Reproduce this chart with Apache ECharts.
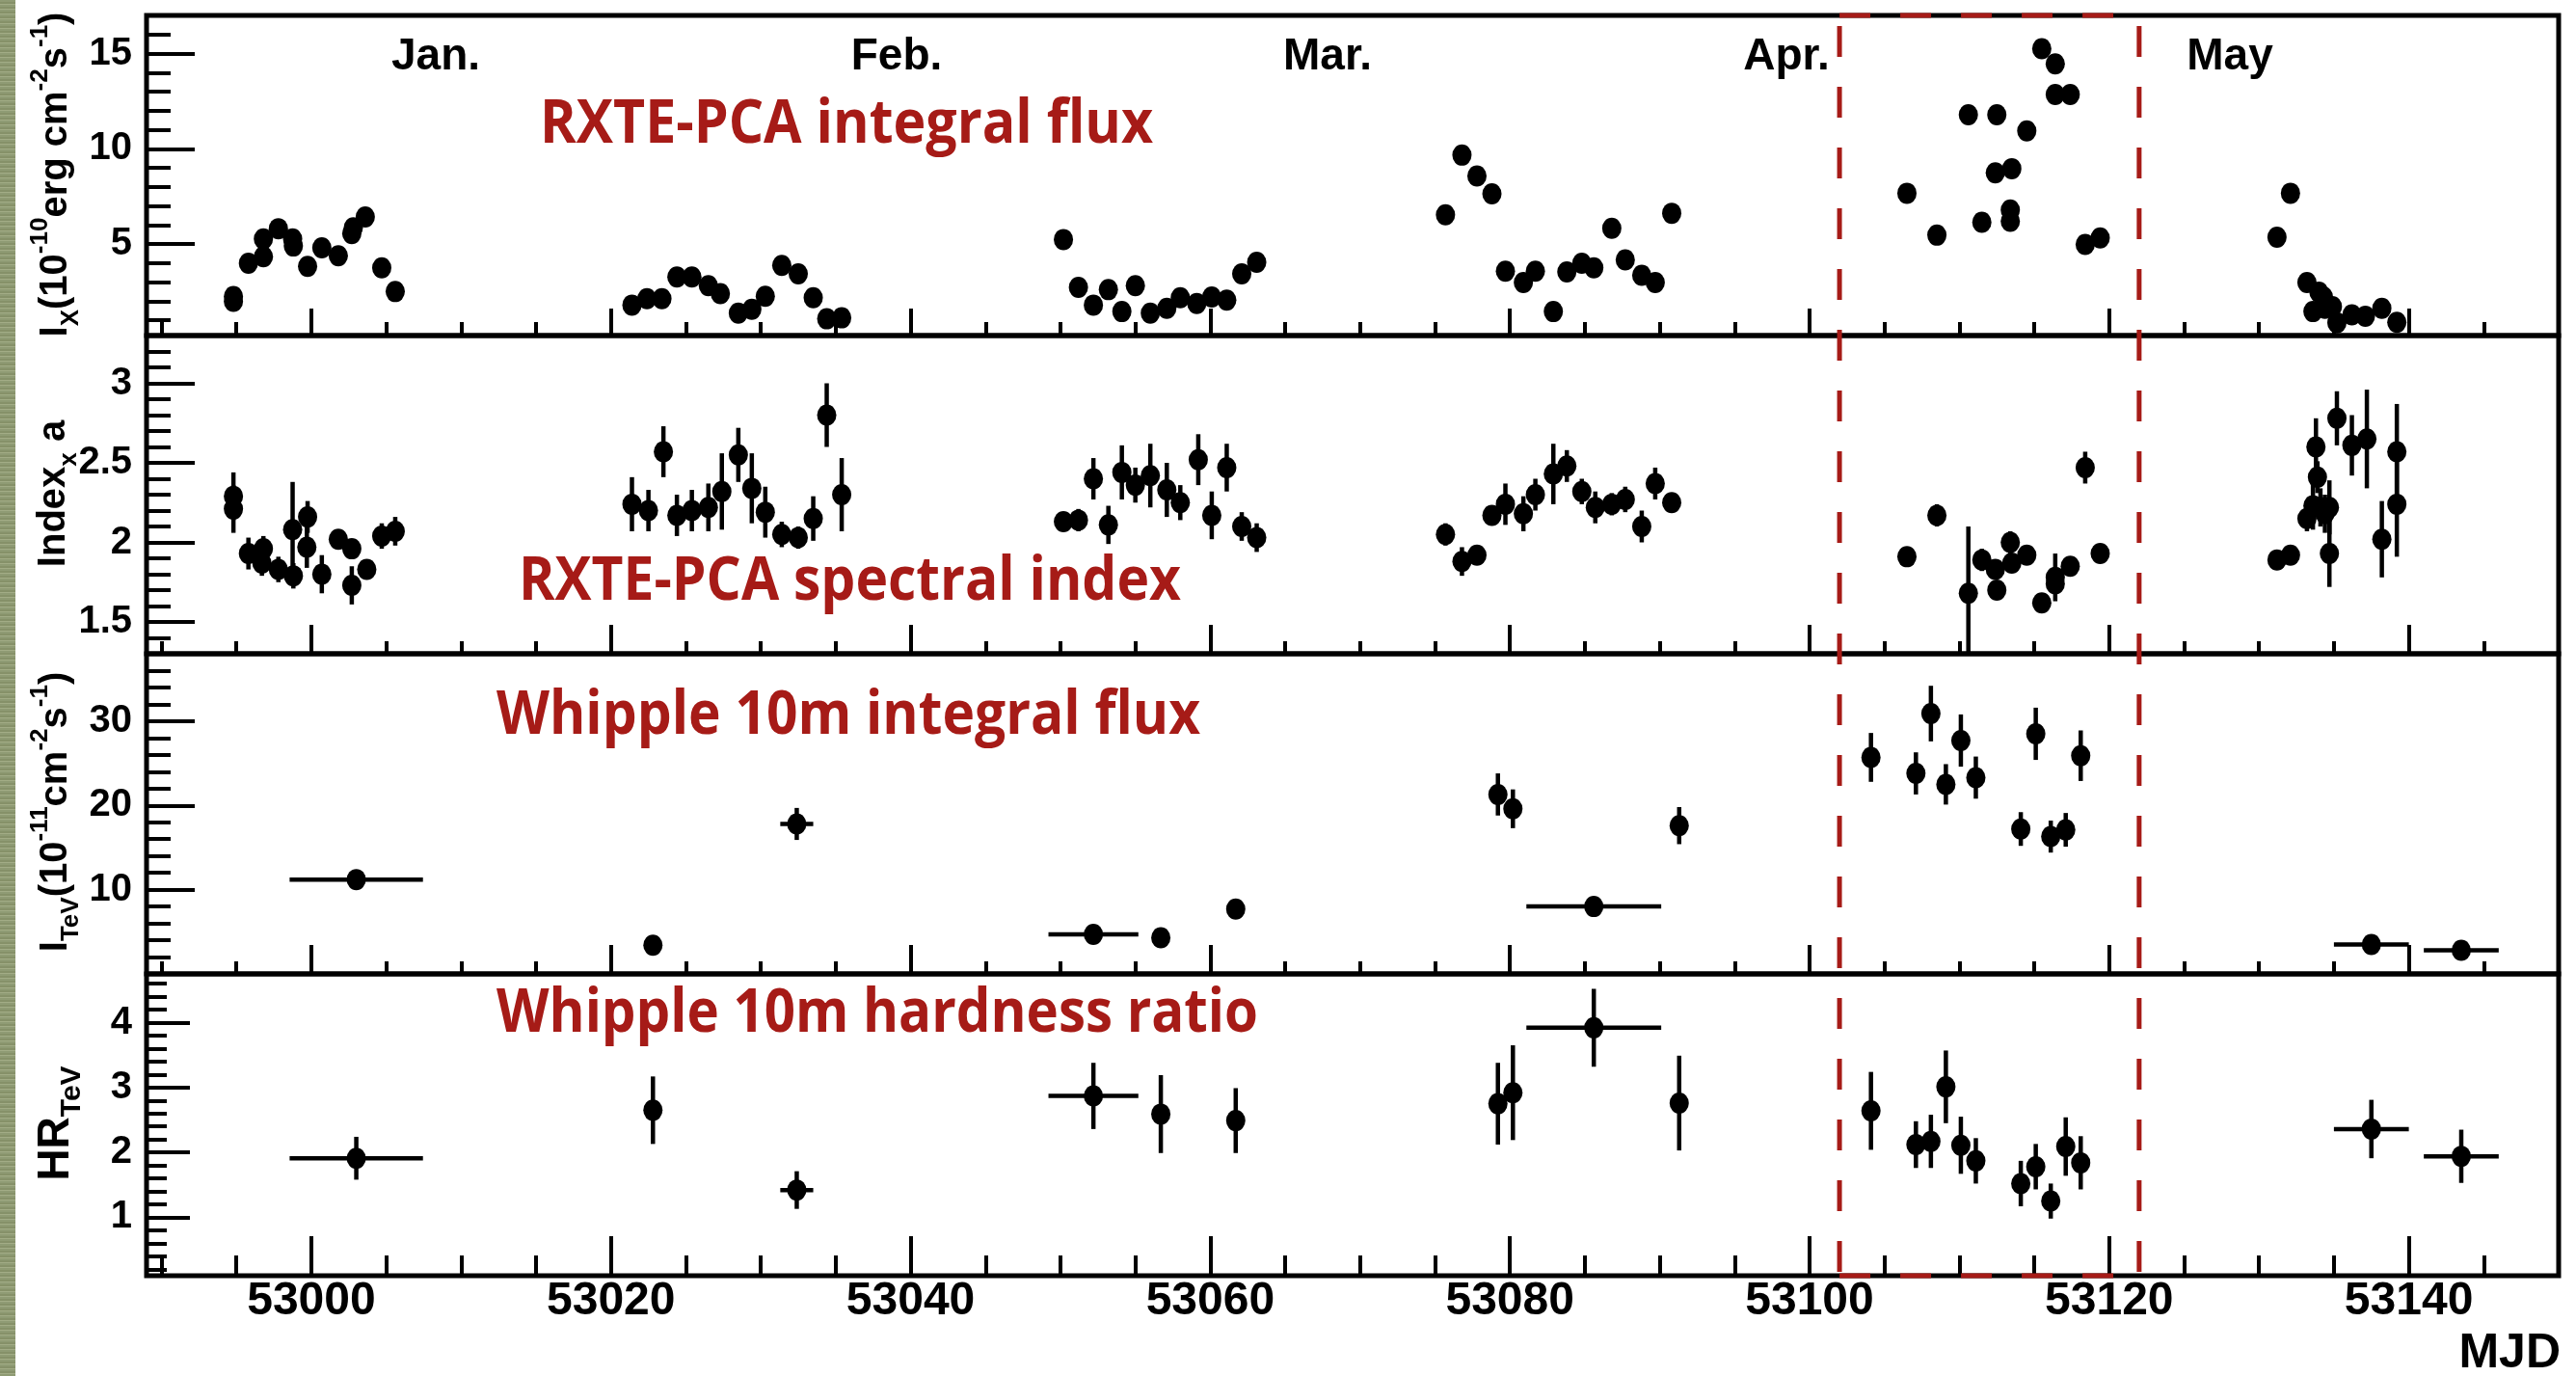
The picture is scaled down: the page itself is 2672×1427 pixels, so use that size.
<!DOCTYPE html>
<html>
<head>
<meta charset="utf-8">
<script src="https://cdn.jsdelivr.net/npm/echarts@6/dist/echarts.min.js"></script>
<style>
html,body{margin:0;padding:0;background:#fff;}
#chart{position:absolute;left:0;top:0;width:2672px;height:1427px;}
#strip{position:absolute;left:0;top:0;width:16px;height:1427px;z-index:5;
 background:repeating-linear-gradient(0deg,#8f9b74 0 2px,#a2ac86 2px 3px,#869169 3px 5px);}
</style>
</head>
<body>
<div id="chart"></div>
<div id="strip"></div>
<script>
// ---------------- DATA ----------------
// X axis (MJD)
const xMajorTicks = [53000, 53020, 53040, 53060, 53080, 53100, 53120, 53140];
// Y tick labels per panel
const p1Ticks = [5, 10, 15];
const p2Ticks = [1.5, 2, 2.5, 3];
const p3Ticks = [10, 20, 30];
const p4Ticks = [1, 2, 3, 4];
const monthNames = ['Jan.', 'Feb.', 'Mar.', 'Apr.', 'May'];

// Panel 1: RXTE-PCA integral flux (1e-10 erg cm^-2 s^-1)
const xrayFluxMJD = [
 52994.8, 52994.8, 52995.8, 52996.8, 52996.8, 52997.8, 52998.75, 52998.8, 52999.75, 53000.7, 53001.8, 53002.7, 53002.8, 53003.6, 53004.7, 53005.6,
 53021.4, 53022.4, 53023.4, 53024.4, 53025.4, 53026.5, 53027.3, 53028.5, 53029.4, 53030.3, 53031.4, 53032.5, 53033.5, 53034.4, 53035.4,
 53050.2, 53051.2, 53052.2, 53053.2, 53054.1, 53055.0, 53056.0, 53057.1, 53058.0, 53059.1, 53060.1, 53061.1, 53062.1, 53063.1,
 53075.7, 53076.8, 53077.8, 53078.8, 53079.7, 53080.9, 53081.7, 53082.9, 53083.8, 53084.8, 53085.6, 53086.8, 53087.7, 53088.8, 53089.7, 53090.8,
 53106.5, 53108.5, 53110.6, 53111.5, 53112.4, 53112.5, 53113.4, 53113.4, 53113.5, 53114.5, 53115.5, 53116.4, 53116.4, 53117.4, 53118.4, 53119.4,
 53131.2, 53132.1, 53133.2, 53133.6, 53134.0, 53134.3, 53134.4, 53134.9, 53135.2, 53136.2, 53137.1, 53138.2, 53139.2
];
const xrayFlux = [
 2.25, 2.0, 4.0, 4.34, 5.27, 5.81, 5.27, 4.9, 3.83, 4.8, 4.39, 5.55, 5.85, 6.42, 3.75, 2.51,
 1.80, 2.14, 2.14, 3.27, 3.27, 2.82, 2.4, 1.38, 1.58, 2.26, 3.88, 3.44, 2.19, 1.08, 1.13,
 5.24, 2.73, 1.80, 2.61, 1.46, 2.82, 1.38, 1.63, 2.19, 1.88, 2.22, 2.06, 3.44, 4.05,
 6.54, 9.67, 8.57, 7.64, 3.58, 2.98, 3.58, 1.46, 3.54, 4.0, 3.75, 5.83, 4.17, 3.36, 2.98, 6.62,
 7.67, 5.47, 11.79, 6.15, 8.74, 11.79, 6.79, 6.2, 8.96, 10.94, 15.25, 14.46, 12.85, 12.85, 4.98, 5.32,
 5.36, 7.67, 2.98, 1.46, 2.48, 2.22, 1.63, 1.72, 0.87, 1.29, 1.21, 1.63, 0.9
];

// Panel 2: RXTE-PCA spectral index
const xrayIndexMJD = [
 52994.8, 52994.8, 52995.8, 52996.7, 52996.8, 52997.8, 52998.75, 52998.8, 52999.7, 52999.75, 53000.7, 53001.8, 53002.7, 53002.7, 53003.7, 53004.7, 53005.6,
 53021.4, 53022.5, 53023.5, 53024.4, 53025.4, 53026.5, 53027.4, 53028.5, 53029.4, 53030.3, 53031.4, 53032.5, 53033.5, 53034.4, 53035.4,
 53050.2, 53051.2, 53052.2, 53053.2, 53054.1, 53055.0, 53056.0, 53057.1, 53058.0, 53059.2, 53060.1, 53061.1, 53062.1, 53063.1,
 53075.7, 53076.8, 53077.8, 53078.8, 53079.7, 53080.9, 53081.7, 53082.9, 53083.8, 53084.8, 53085.7, 53086.8, 53087.7, 53088.8, 53089.7, 53090.8,
 53106.5, 53108.5, 53110.6, 53111.5, 53112.4, 53112.5, 53113.4, 53113.5, 53114.5, 53115.5, 53116.4, 53116.4, 53117.4, 53118.4, 53119.4,
 53131.2, 53132.1, 53133.2, 53133.6, 53133.8, 53133.9, 53134.1, 53134.4, 53134.7, 53134.7, 53135.2, 53136.2, 53137.2, 53138.2, 53139.2, 53139.2
];
const xrayIndex = [
 2.29, 2.21, 1.93, 1.87, 1.96, 1.83, 2.08, 1.79, 1.97, 2.16, 1.80, 2.02, 1.96, 1.73, 1.83, 2.04, 2.07,
 2.24, 2.20, 2.57, 2.17, 2.20, 2.22, 2.32, 2.55, 2.34, 2.19, 2.05, 2.03, 2.15, 2.80, 2.30,
 2.13, 2.14, 2.40, 2.11, 2.44, 2.36, 2.42, 2.33, 2.25, 2.52, 2.17, 2.47, 2.10, 2.03,
 2.05, 1.88, 1.92, 2.17, 2.24, 2.18, 2.30, 2.43, 2.48, 2.32, 2.22, 2.24, 2.27, 2.10, 2.37, 2.25,
 1.91, 2.17, 1.68, 1.89, 1.83, 1.70, 2.00, 1.87, 1.92, 1.62, 1.78, 1.74, 1.85, 2.47, 1.93,
 1.89, 1.92, 2.15, 2.23, 2.60, 2.41, 2.22, 2.18, 2.22, 1.93, 2.78, 2.61, 2.65, 2.02, 2.57, 2.24
];
const xrayIndexErr = [
 0.15, 0.15, 0.10, 0.08, 0.08, 0.08, 0.30, 0.08, 0.13, 0.10, 0.12, 0.06, 0.06, 0.12, 0.04, 0.08, 0.09,
 0.17, 0.13, 0.16, 0.13, 0.13, 0.15, 0.24, 0.17, 0.22, 0.16, 0.08, 0.07, 0.14, 0.20, 0.23,
 0.05, 0.07, 0.13, 0.12, 0.17, 0.11, 0.20, 0.17, 0.11, 0.16, 0.15, 0.15, 0.09, 0.09,
 0.07, 0.09, 0.03, 0.06, 0.13, 0.11, 0.10, 0.19, 0.10, 0.08, 0.10, 0.07, 0.08, 0.10, 0.10, 0.06,
 0.03, 0.07, 0.42, 0.07, 0.04, 0.04, 0.07, 0.05, 0.04, 0.04, 0.15, 0.06, 0.05, 0.10, 0.06,
 0.03, 0.03, 0.08, 0.15, 0.18, 0.10, 0.12, 0.12, 0.17, 0.21, 0.17, 0.19, 0.31, 0.24, 0.30, 0.33
];

// Panel 3: Whipple 10m integral flux (1e-11 cm^-2 s^-1)
const tevMJD = [53003.0, 53022.8, 53032.4, 53052.2, 53056.7, 53061.7, 53079.2, 53080.2, 53085.6, 53091.3,
 53104.1, 53107.1, 53108.1, 53109.1, 53110.1, 53111.1, 53114.1, 53115.1, 53116.1, 53117.1, 53118.1, 53137.5, 53143.5];
const tevMJDErr = [4.45, 0, 1.1, 3.0, 0, 0, 0, 0, 4.5, 0,
 0, 0, 0, 0, 0, 0, 0, 0, 0, 0, 0, 2.5, 2.5];
const tevFlux = [11.2, 3.4, 17.8, 4.7, 4.3, 7.7, 21.3, 19.6, 8.0, 17.6,
 25.7, 23.8, 30.9, 22.5, 27.7, 23.3, 17.2, 28.5, 16.3, 17.1, 25.9, 3.5, 2.8];
const tevFluxErr = [0.5, 0.4, 1.9, 0.5, 0.5, 0.6, 2.5, 2.3, 0.5, 2.2,
 2.9, 2.5, 3.3, 2.4, 3.1, 2.5, 2.0, 3.1, 1.9, 2.0, 3.0, 0.3, 0.3];

// Panel 4: Whipple 10m hardness ratio
const hrMJD = tevMJD;
const hrMJDErr = tevMJDErr;
const hrValue = [1.91, 2.65, 1.42, 2.87, 2.59, 2.49, 2.75, 2.92, 3.92, 2.76,
 2.64, 2.12, 2.17, 3.01, 2.11, 1.87, 1.52, 1.78, 1.25, 2.09, 1.84, 2.36, 1.94];
const hrErr = [0.33, 0.52, 0.29, 0.51, 0.6, 0.5, 0.63, 0.73, 0.6, 0.73,
 0.6, 0.36, 0.41, 0.56, 0.44, 0.35, 0.35, 0.35, 0.27, 0.45, 0.41, 0.45, 0.41];

const flareRange = [53102, 53122];

// ---------------- LAYOUT ----------------
const RED = '#a61b17';
const NUM_FONT = 'Liberation Sans';
const TITLE_FONT = 'Open Sans';
function range(a, b, s) { const r = []; for (let v = a; v <= b + 1e-9; v += s) r.push(Math.round(v * 1000) / 1000); return r; }
const xMinorTicks = range(52990, 53150, 5);

const panels = [
  {top: 16, h: 332, min: 0.2, max: 17, major: p1Ticks, minor: range(1, 16, 1), xt: [28, 14], yt: [50, 25]},
  {top: 348, h: 330, min: 1.3, max: 3.3, major: p2Ticks, minor: range(1.4, 3.2, 0.1), xt: [30, 13], yt: [50, 25]},
  {top: 678, h: 332, min: 0, max: 38, major: p3Ticks, minor: range(2, 36, 2), xt: [30, 13], yt: [50, 25]},
  {top: 1010, h: 313, min: 0.1, max: 4.75, major: p4Ticks, minor: range(0.2, 4.6, 0.2), xt: [41, 21], yt: [45, 21]}
];

const plain = v => String(v);
const grid = [], xAxis = [], yAxis = [];
panels.forEach((p, i) => {
  grid.push({left: 152, width: 2502, top: p.top, height: p.h, show: true, borderColor: '#000', borderWidth: 5, backgroundColor: 'transparent'});
  xAxis.push({type: 'value', gridIndex: i, position: 'bottom', min: 52989, max: 53150,
    axisLine: {show: false}, splitLine: {show: false},
    axisTick: {show: true, inside: true, length: p.xt[0], customValues: xMajorTicks, lineStyle: {color: '#000', width: 4}},
    axisLabel: {show: i === 3, customValues: xMajorTicks, formatter: plain, fontSize: 48, fontWeight: 'bold', fontFamily: NUM_FONT, color: '#000', margin: 3}});
  xAxis.push({type: 'value', gridIndex: i, position: 'bottom', min: 52989, max: 53150,
    axisLine: {show: false}, splitLine: {show: false}, axisLabel: {show: false},
    axisTick: {show: true, inside: true, length: p.xt[1], customValues: xMinorTicks, lineStyle: {color: '#000', width: 4}}});
  yAxis.push({type: 'value', gridIndex: i, position: 'left', min: p.min, max: p.max,
    axisLine: {show: false}, splitLine: {show: false},
    axisTick: {show: true, inside: true, length: p.yt[0], customValues: p.major, lineStyle: {color: '#000', width: 4}},
    axisLabel: {customValues: p.major, formatter: plain, fontSize: 40, fontWeight: 'bold', fontFamily: NUM_FONT, color: '#000', margin: 15}});
  yAxis.push({type: 'value', gridIndex: i, position: 'left', min: p.min, max: p.max,
    axisLine: {show: false}, splitLine: {show: false}, axisLabel: {show: false},
    axisTick: {show: true, inside: true, length: p.yt[1], customValues: p.minor, lineStyle: {color: '#000', width: 4}}});
});

function errorBars(params, api) {
  const x = api.value(0), y = api.value(1), ex = api.value(2), ey = api.value(3);
  const cs = params.coordSys;
  const clx = v => Math.max(cs.x, Math.min(cs.x + cs.width, v));
  const cly = v => Math.max(cs.y, Math.min(cs.y + cs.height, v));
  const c = api.coord([x, y]);
  const kids = [];
  const st = {stroke: '#000', lineWidth: 4.5};
  if (ey > 0) {
    const a = api.coord([x, y + ey]), b = api.coord([x, y - ey]);
    kids.push({type: 'line', shape: {x1: c[0], y1: cly(a[1]), x2: c[0], y2: cly(b[1])}, style: st});
  }
  if (ex > 0) {
    const a = api.coord([x - ex, y]), b = api.coord([x + ex, y]);
    kids.push({type: 'line', shape: {x1: clx(a[0]), y1: c[1], x2: clx(b[0]), y2: c[1]}, style: st});
  }
  return {type: 'group', children: kids};
}

function pts(xs, ys) { return xs.map((x, k) => [x, ys[k]]); }
function errs(xs, ys, exs, eys) { return xs.map((x, k) => [x, ys[k], exs ? exs[k] : 0, eys ? eys[k] : 0]); }

const MARK = {type: 'scatter', symbol: 'circle', symbolSize: [20, 22], itemStyle: {color: '#000', opacity: 1}, z: 5, silent: true};
const ERR = {type: 'custom', renderItem: errorBars, z: 4, silent: true};

const series = [
  Object.assign({}, MARK, {xAxisIndex: 0, yAxisIndex: 0, data: pts(xrayFluxMJD, xrayFlux)}),
  Object.assign({}, ERR, {xAxisIndex: 2, yAxisIndex: 2, data: errs(xrayIndexMJD, xrayIndex, null, xrayIndexErr)}),
  Object.assign({}, MARK, {xAxisIndex: 2, yAxisIndex: 2, data: pts(xrayIndexMJD, xrayIndex)}),
  Object.assign({}, ERR, {xAxisIndex: 4, yAxisIndex: 4, data: errs(tevMJD, tevFlux, tevMJDErr, tevFluxErr)}),
  Object.assign({}, MARK, {xAxisIndex: 4, yAxisIndex: 4, data: pts(tevMJD, tevFlux)}),
  Object.assign({}, ERR, {xAxisIndex: 6, yAxisIndex: 6, data: errs(hrMJD, hrValue, hrMJDErr, hrErr)}),
  Object.assign({}, MARK, {xAxisIndex: 6, yAxisIndex: 6, data: pts(hrMJD, hrValue)})
];

const chart = echarts.init(document.getElementById('chart'), null, {renderer: 'canvas'});
chart.setOption({animation: false, backgroundColor: 'transparent', grid, xAxis, yAxis, series});

// ---------------- ANNOTATIONS ----------------
const mctx = document.createElement('canvas').getContext('2d');
function fitScale(text, size, weight, family, target) {
  mctx.font = weight + ' ' + size + 'px "' + family + '"';
  return target / mctx.measureText(text).width;
}
function txt(text, x, y, size, opts) {
  opts = opts || {};
  return {type: 'text', x: x, y: y, z: 100, scaleX: opts.scaleX || 1, rotation: opts.rotation || 0,
    style: {text: text, fontSize: size, fontWeight: opts.weight || 'bold', fontFamily: opts.family || NUM_FONT,
      fill: opts.color || '#000', align: opts.align || 'center', verticalAlign: 'middle',
      textAlign: opts.align || 'center', textVerticalAlign: 'middle', rich: opts.rich}};
}

const g = [];
// month labels
const monthX = [452, 930, 1377, 1853, 2313];
monthNames.forEach((m, k) => g.push(txt(m, monthX[k], 59, 46)));

// red panel titles
const titles = [
  ['RXTE-PCA integral flux', 560, 153, 636],
  ['RXTE-PCA spectral index', 538, 627, 687],
  ['Whipple 10m integral flux', 515, 766, 730],
  ['Whipple 10m hardness ratio', 515, 1075, 790]
];
titles.forEach(t => {
  const fs = 62;
  const sc = fitScale(t[0], fs, 'bold', TITLE_FONT, t[3]);
  g.push(txt(t[0], t[1], t[2] - 0.36 * fs, fs, {family: TITLE_FONT, color: RED, align: 'left', scaleX: sc}));
});

// y-axis titles (rotated, with sub/superscripts)
const rich = {
  m: {fontSize: 40, fontWeight: 'bold', fontFamily: NUM_FONT, lineHeight: 58, verticalAlign: 'middle'},
  sp: {fontSize: 26, fontWeight: 'bold', fontFamily: NUM_FONT, lineHeight: 26, verticalAlign: 'top'},
  sb: {fontSize: 26, fontWeight: 'bold', fontFamily: NUM_FONT, lineHeight: 26, verticalAlign: 'bottom'},
  M: {fontSize: 46, fontWeight: 'bold', fontFamily: NUM_FONT, lineHeight: 64, verticalAlign: 'middle'},
  SB: {fontSize: 30, fontWeight: 'bold', fontFamily: NUM_FONT, lineHeight: 30, verticalAlign: 'bottom'}
};
const yTitles = [
  ['{m|I}{sb|X}{m|(10}{sp|-10}{m|erg cm}{sp|-2}{m|s}{sp|-1}{m|)}', 58, 181],
  ['{m|Index}{sb|x}{m| a}', 56, 512],
  ['{m|I}{sb|TeV}{m|(10}{sp|-11}{m|cm}{sp|-2}{m|s}{sp|-1}{m|)}', 58, 842],
  ['{M|HR}{SB|TeV}', 58, 1165]
];
yTitles.forEach(t => g.push(txt(t[0], t[1], t[2], 40, {rotation: Math.PI / 2, rich: rich})));

// MJD axis title
g.push(txt('MJD', 2656, 1404, 50, {align: 'right'}));

// flare window: dashed red box
const xa = chart.convertToPixel({xAxisIndex: 0}, flareRange[0]);
const xb = chart.convertToPixel({xAxisIndex: 0}, flareRange[1]);
const yTop = panels[0].top, yBot = panels[3].top + panels[3].h;
const dash = {stroke: RED, lineWidth: 5, lineDash: [32, 31]};
[xa, xb].forEach(x => g.push({type: 'line', z: 110, shape: {x1: x, y1: yTop, x2: x, y2: yBot}, style: Object.assign({lineDashOffset: 52}, dash)}));
g.push({type: 'line', z: 110, shape: {x1: xa, y1: yTop, x2: xb, y2: yTop}, style: dash});
g.push({type: 'line', z: 110, shape: {x1: xa, y1: yBot, x2: xb, y2: yBot}, style: dash});

chart.setOption({graphic: {elements: g}});
</script>
</body>
</html>
